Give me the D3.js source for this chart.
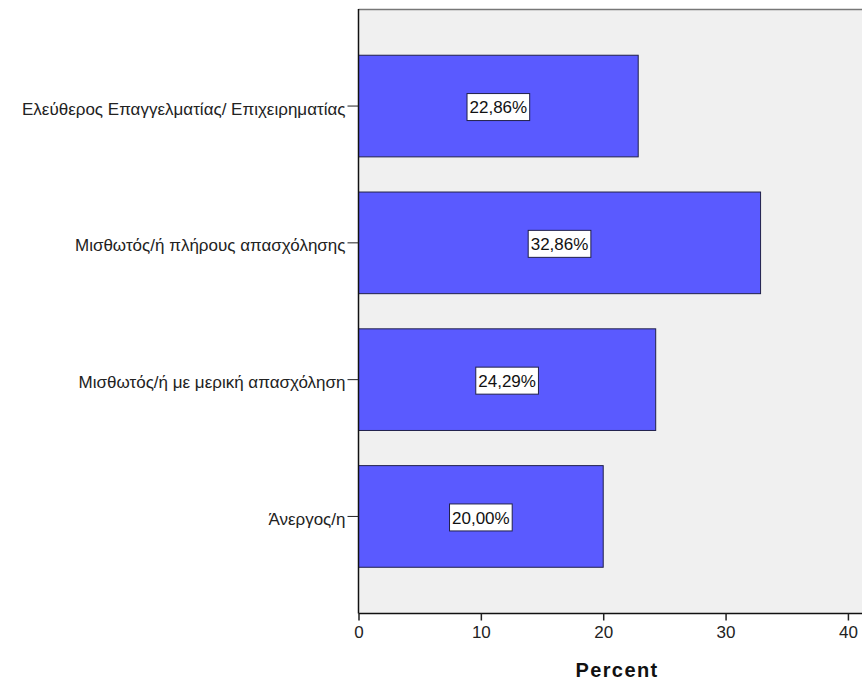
<!DOCTYPE html>
<html>
<head>
<meta charset="utf-8">
<script src="https://cdn.jsdelivr.net/npm/d3@7"></script>
<style>
  body { margin: 0; background: #fff; }
  svg { display: block; font-family: "Liberation Sans", Arial, sans-serif; }
</style>
</head>
<body>
<svg id="chart" width="862" height="682"></svg>
<script>
// Employment status, percent of respondents
const categories = [
  "Ελεύθερος Επαγγελματίας/ Επιχειρηματίας",
  "Μισθωτός/ή πλήρους απασχόλησης",
  "Μισθωτός/ή με μερική απασχόληση",
  "Άνεργος/η"
];
const percents = [22.86, 32.86, 24.29, 20.00];
const xTicks = [0, 10, 20, 30, 40];
const xTitle = "Percent";

const svg = d3.select("#chart");
const plot = { left: 358.5, right: 862, top: 9, bottom: 613.5 };

const x = d3.scaleLinear().domain([0, 41.15]).range([plot.left, plot.right]);
const y = d3.scaleBand()
  .domain(categories)
  .range([plot.top, plot.bottom])
  .paddingInner(0.257)
  .paddingOuter(0.338);

// plot background
svg.append("rect")
  .attr("x", plot.left).attr("y", plot.top)
  .attr("width", plot.right - plot.left).attr("height", plot.bottom - plot.top)
  .attr("fill", "#f0f0f0");
svg.append("line")
  .attr("x1", plot.left).attr("x2", plot.right)
  .attr("y1", plot.top + 0.5).attr("y2", plot.top + 0.5)
  .attr("stroke", "#777").attr("stroke-width", 1.5);

// bars
svg.append("g").selectAll("rect")
  .data(categories)
  .join("rect")
  .attr("x", x(0))
  .attr("y", d => y(d))
  .attr("width", (d, i) => x(percents[i]) - x(0))
  .attr("height", y.bandwidth())
  .attr("fill", "#5a5aff")
  .attr("stroke", "#20204a")
  .attr("stroke-width", 1);

// value labels
const fmt = v => v.toFixed(2).replace(".", ",") + "%";
const labels = svg.append("g").selectAll("g")
  .data(categories)
  .join("g")
  .attr("transform", (d, i) =>
    `translate(${(x(0) + x(percents[i])) / 2},${y(d) + y.bandwidth() / 2 + 1})`);
labels.append("text")
  .attr("text-anchor", "middle")
  .attr("dy", "0.36em")
  .attr("font-size", 17)
  .attr("fill", "#111")
  .text((d, i) => fmt(percents[i]));
labels.each(function () {
  const g = d3.select(this);
  const bb = g.select("text").node().getBBox();
  g.insert("rect", "text")
    .attr("x", bb.x - 2.5).attr("y", -13.5)
    .attr("width", bb.width + 5).attr("height", 27)
    .attr("fill", "#fff")
    .attr("stroke", "#20204a")
    .attr("stroke-width", 1);
});

// y axis
const yAxis = svg.append("g")
  .attr("transform", `translate(${plot.left},0)`)
  .call(d3.axisLeft(y).tickSize(11).tickPadding(2));
yAxis.select(".domain").attr("stroke", "#111").attr("stroke-width", 1.5)
  .attr("d", `M0,${plot.top}V${plot.bottom}`);
yAxis.selectAll(".tick line").attr("stroke", "#222");
yAxis.selectAll(".tick text")
  .attr("font-size", 17)
  .attr("dy", "0.5em")
  .attr("font-family", "Liberation Sans, Arial, sans-serif")
  .attr("fill", "#222");

// x axis
const xAxis = svg.append("g")
  .attr("transform", `translate(0,${plot.bottom})`)
  .call(d3.axisBottom(x).tickValues(xTicks).tickSize(7).tickPadding(5));
xAxis.select(".domain").attr("stroke", "#111").attr("stroke-width", 1.5)
  .attr("d", `M${plot.left},0H${plot.right}`);
xAxis.selectAll(".tick line").attr("stroke", "#222").attr("stroke-width", 1.5);
xAxis.selectAll(".tick text")
  .attr("font-size", 17)
  .attr("font-family", "Liberation Sans, Arial, sans-serif")
  .attr("fill", "#222");

svg.append("text")
  .attr("x", 617).attr("y", 677)
  .attr("text-anchor", "middle")
  .attr("font-size", 20)
  .attr("font-weight", "bold")
  .attr("letter-spacing", 1.4)
  .attr("fill", "#111")
  .text(xTitle);
</script>
</body>
</html>
